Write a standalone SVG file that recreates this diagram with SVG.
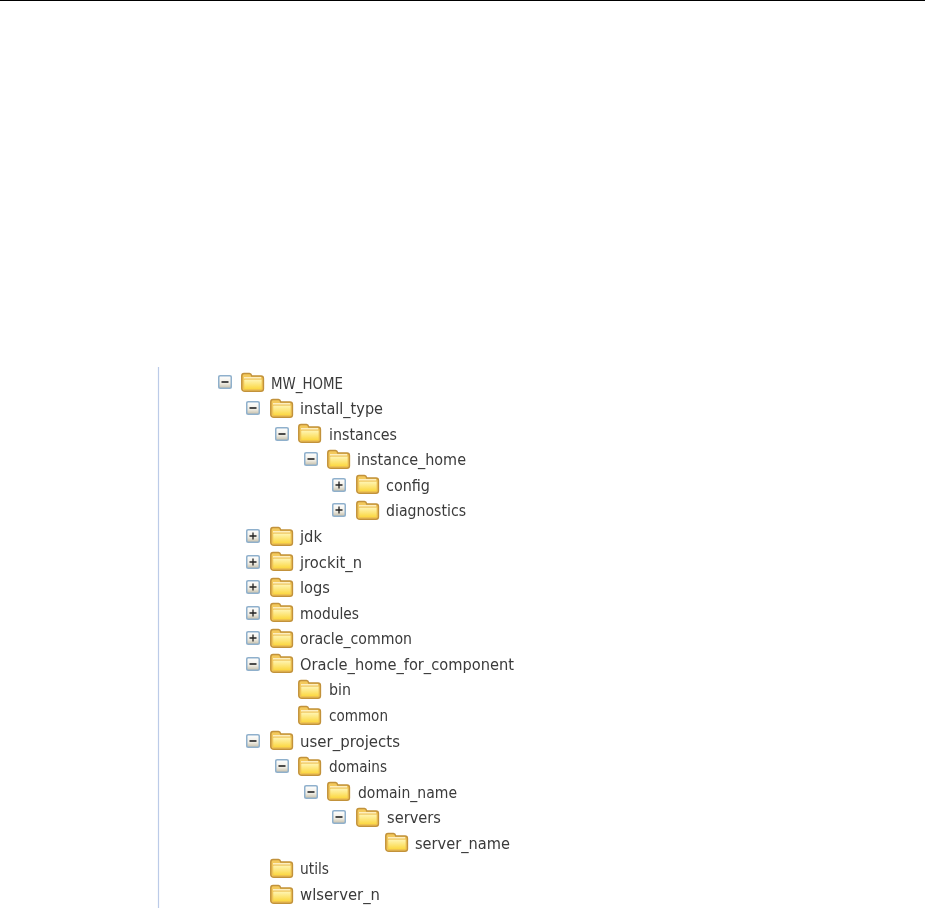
<svg xmlns="http://www.w3.org/2000/svg" width="925" height="908" viewBox="0 0 925 908">
<style>
text{font-family:"DejaVu Sans","Liberation Sans",sans-serif;font-size:15.5px;fill:#3a3a3a;filter:url(#soft)}
</style>
<defs>
<filter id="soft" x="-5%" y="-20%" width="110%" height="140%"><feGaussianBlur stdDeviation="0.4"/></filter>
<linearGradient id="fg" x1="0" y1="0" x2="0" y2="1"><stop offset="0" stop-color="#fff6b8"/><stop offset="1" stop-color="#fbd63c"/></linearGradient>
<linearGradient id="bg" x1="0" y1="0" x2="0" y2="1"><stop offset="0" stop-color="#ffffff"/><stop offset=".6" stop-color="#f0ede4"/><stop offset="1" stop-color="#c4bda8"/></linearGradient>
<g id="folder" filter="url(#soft)">
<path d="M0.8 15.5V3Q0.8 0.5 3 0.5H8.5Q10 0.5 10.8 3H20Q22.4 3 22.4 5.5V16Q22.4 18.2 20 18.2H4Q0.8 18.2 0.8 15.5Z" fill="#f3c95c" stroke="#c2923a" stroke-width="1.5"/>
<path d="M2.8 16.6V7.4Q2.8 6.2 4 6.2H21V16.6Z" fill="url(#fg)" stroke="#ebbd50" stroke-width=".7"/>
<path d="M3 4.8H20" stroke="#fff8d8" stroke-width="1.2"/>
</g>
<g id="box" filter="url(#soft)">
<rect x="-6.3" y="-6.3" width="12.6" height="12.6" rx="1.5" fill="url(#bg)" stroke="#8fb0cc" stroke-width="1.6"/>
</g>
<g id="minus"><use href="#box"/><path d="M-3.5 0H3.5" stroke="#222" stroke-width="1.6"/></g>
<g id="plus"><use href="#box"/><path d="M-3.5 0H3.5M0 -3.5V3.5" stroke="#222" stroke-width="1.3"/></g>
</defs>
<rect width="925" height="908" fill="#fff"/>
<path d="M0 0.5H925" stroke="#000" stroke-width="1.2"/>
<path d="M158.5 367V908" stroke="#bccbe8" stroke-width="1.2"/>
<g id="connectors"></g>
<g id="n1"><use href="#minus" x="225" y="382"/><use href="#folder" x="241" y="373"/><text x="271" y="388.500" textLength="72" lengthAdjust="spacingAndGlyphs">MW_HOME</text></g>
<g id="n2"><use href="#minus" x="253" y="408"/><use href="#folder" x="270" y="399"/><text x="300" y="414" textLength="83" lengthAdjust="spacingAndGlyphs">install_type</text></g>
<g id="n3"><use href="#minus" x="282" y="434"/><use href="#folder" x="298" y="424"/><text x="329" y="440" textLength="68" lengthAdjust="spacingAndGlyphs">instances</text></g>
<g id="n4"><use href="#minus" x="311" y="459"/><use href="#folder" x="327" y="450"/><text x="357" y="465" textLength="109" lengthAdjust="spacingAndGlyphs">instance_home</text></g>
<g id="n5"><use href="#plus" x="339" y="485"/><use href="#folder" x="356" y="475"/><text x="386" y="491" textLength="44" lengthAdjust="spacingAndGlyphs">config</text></g>
<g id="n6"><use href="#plus" x="339" y="510"/><use href="#folder" x="356" y="501"/><text x="386" y="516" textLength="80" lengthAdjust="spacingAndGlyphs">diagnostics</text></g>
<g id="n7"><use href="#plus" x="253" y="536"/><use href="#folder" x="270" y="527"/><text x="300" y="542" textLength="22" lengthAdjust="spacingAndGlyphs">jdk</text></g>
<g id="n8"><use href="#plus" x="253" y="562"/><use href="#folder" x="270" y="552"/><text x="300" y="568" textLength="62" lengthAdjust="spacingAndGlyphs">jrockit_n</text></g>
<g id="n9"><use href="#plus" x="253" y="587"/><use href="#folder" x="270" y="578"/><text x="300" y="593" textLength="30" lengthAdjust="spacingAndGlyphs">logs</text></g>
<g id="n10"><use href="#plus" x="253" y="613"/><use href="#folder" x="270" y="603"/><text x="300" y="619" textLength="59" lengthAdjust="spacingAndGlyphs">modules</text></g>
<g id="n11"><use href="#plus" x="253" y="638"/><use href="#folder" x="270" y="629"/><text x="300" y="644" textLength="112" lengthAdjust="spacingAndGlyphs">oracle_common</text></g>
<g id="n12"><use href="#minus" x="253" y="664"/><use href="#folder" x="270" y="654"/><text x="300" y="670" textLength="214" lengthAdjust="spacingAndGlyphs">Oracle_home_for_component</text></g>
<g id="n13"><use href="#folder" x="298" y="680"/><text x="329" y="695" textLength="22" lengthAdjust="spacingAndGlyphs">bin</text></g>
<g id="n14"><use href="#folder" x="298" y="706"/><text x="329" y="721" textLength="59" lengthAdjust="spacingAndGlyphs">common</text></g>
<g id="n15"><use href="#minus" x="253" y="741"/><use href="#folder" x="270" y="731"/><text x="300" y="747" textLength="100" lengthAdjust="spacingAndGlyphs">user_projects</text></g>
<g id="n16"><use href="#minus" x="282" y="766"/><use href="#folder" x="298" y="757"/><text x="329" y="772" textLength="58" lengthAdjust="spacingAndGlyphs">domains</text></g>
<g id="n17"><use href="#minus" x="311" y="792"/><use href="#folder" x="327" y="782"/><text x="358" y="798" textLength="99" lengthAdjust="spacingAndGlyphs">domain_name</text></g>
<g id="n18"><use href="#minus" x="339" y="817"/><use href="#folder" x="356" y="808"/><text x="387" y="823" textLength="54" lengthAdjust="spacingAndGlyphs">servers</text></g>
<g id="n19"><use href="#folder" x="385" y="833"/><text x="415" y="849" textLength="95" lengthAdjust="spacingAndGlyphs">server_name</text></g>
<g id="n20"><use href="#folder" x="270" y="859"/><text x="300" y="874" textLength="29" lengthAdjust="spacingAndGlyphs">utils</text></g>
<g id="n21"><use href="#folder" x="270" y="885"/><text x="300" y="900" textLength="80" lengthAdjust="spacingAndGlyphs">wlserver_n</text></g>
</svg>
